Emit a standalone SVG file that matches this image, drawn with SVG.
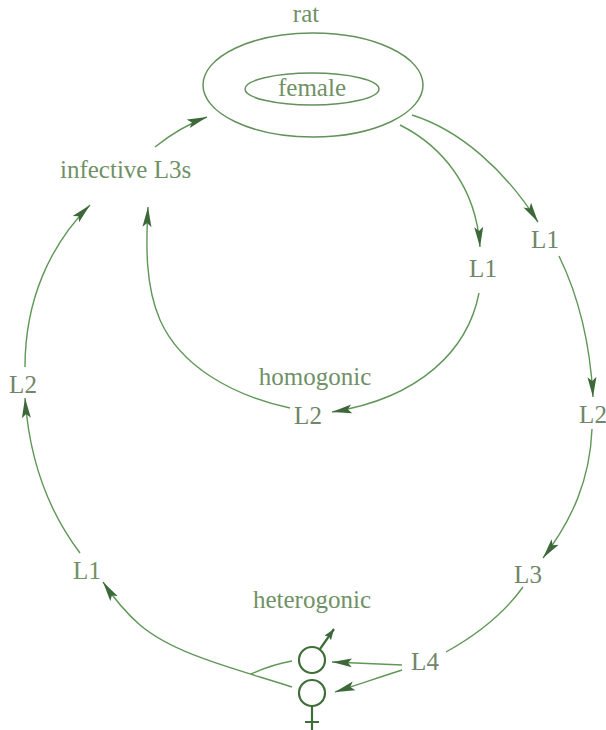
<svg xmlns="http://www.w3.org/2000/svg" width="606" height="730" viewBox="0 0 606 730">
<style>
text{font-family:"Liberation Serif","Times New Roman",serif;font-size:25px;fill:#6f9165;}
.lab{fill:#6f8668;}
.c{fill:none;stroke:#5f9757;stroke-width:1.4;}
.e{fill:none;stroke:#62915a;stroke-width:1.5;}
.s{fill:none;stroke:#3f6e3a;stroke-width:2.2;}
</style>
<defs>
<marker id="ah" markerWidth="22" markerHeight="10" refX="20" refY="5" orient="auto" markerUnits="userSpaceOnUse">
<path d="M0,0.5 L20,5 L0,9.5 L4,5 Z" fill="#3c683a"/>
</marker>
<marker id="as" markerWidth="12" markerHeight="8" refX="11" refY="4" orient="auto" markerUnits="userSpaceOnUse">
<path d="M0,0 L11,4 L0,8 L2,4 Z" fill="#3c683a"/>
</marker>
</defs>
<g id="rat">
<text x="306" y="22" text-anchor="middle">rat</text>
<ellipse class="e" cx="313" cy="85" rx="110" ry="52"/>
</g>
<g id="female">
<ellipse class="e" cx="312" cy="89" rx="67" ry="16"/>
<text x="312" y="96" text-anchor="middle">female</text>
</g>
<g id="infective"><text x="60" y="178">infective L3s</text></g>
<g id="L1inner"><text class="lab" x="483" y="277" text-anchor="middle">L1</text></g>
<g id="L1outer"><text class="lab" x="545" y="248" text-anchor="middle">L1</text></g>
<g id="homogonic"><text x="315" y="385" text-anchor="middle">homogonic</text></g>
<g id="L2homo"><text class="lab" x="308" y="424" text-anchor="middle">L2</text></g>
<g id="L2right"><text class="lab" x="593" y="423" text-anchor="middle">L2</text></g>
<g id="L3"><text class="lab" x="528" y="583" text-anchor="middle">L3</text></g>
<g id="L4"><text class="lab" x="425" y="670" text-anchor="middle">L4</text></g>
<g id="heterogonic"><text x="312" y="608" text-anchor="middle">heterogonic</text></g>
<g id="L1left"><text x="87" y="579" text-anchor="middle">L1</text></g>
<g id="L2left"><text class="lab" x="23" y="393" text-anchor="middle">L2</text></g>
<g id="male">
<circle class="s" cx="312" cy="660" r="13"/>
<path class="s" d="M320,649 L334,629" marker-end="url(#as)"/>
</g>
<g id="femaleSymbol">
<circle class="s" cx="312" cy="693" r="13"/>
<path class="s" d="M312,706 V730 M305,722 H319"/>
</g>
<g id="connectors">
<path class="c" d="M155,147 C170,135 185,125 207,117" marker-end="url(#ah)"/>
<path class="c" d="M400,125 C440,145 476,185 480,247" marker-end="url(#ah)"/>
<path class="c" d="M412,115 C460,130 505,170 538,222" marker-end="url(#ah)"/>
<path class="c" d="M479,293 C468,350 420,398 332,412" marker-end="url(#ah)"/>
<path class="c" d="M290,408 C230,395 180,365 160,320 C145,285 146,245 148,207" marker-end="url(#ah)"/>
<path class="c" d="M559,256 C578,295 590,340 593,397" marker-end="url(#ah)"/>
<path class="c" d="M592,429 C590,480 572,520 543,558" marker-end="url(#ah)"/>
<path class="c" d="M523,587 C505,612 482,632 446,652"/>
<path class="c" d="M402,665 L332,662" marker-end="url(#ah)"/>
<path class="c" d="M402,670 C380,677 360,684 335,692" marker-end="url(#ah)"/>
<path class="c" d="M292,661 C275,664 262,669 251,674"/>
<path class="c" d="M292,687 C240,670 175,655 140,625 C125,612 113,597 103,582" marker-end="url(#ah)"/>
<path class="c" d="M80,553 C55,520 30,470 25,398" marker-end="url(#ah)"/>
<path class="c" d="M25,367 C25,300 50,245 90,205" marker-end="url(#ah)"/>
</g>
</svg>
